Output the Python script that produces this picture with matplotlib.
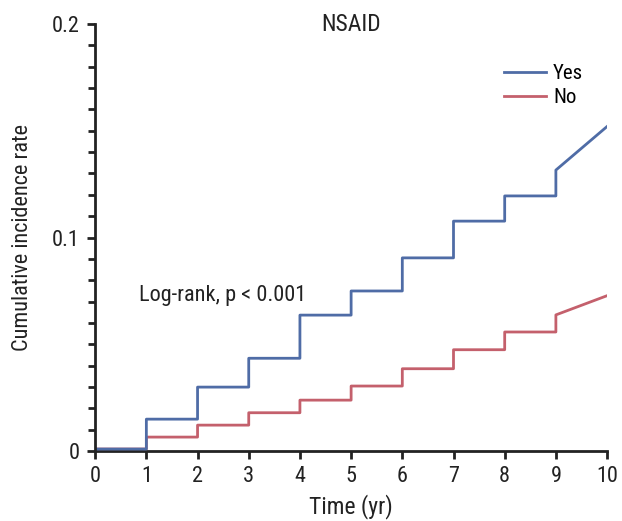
import numpy as np
import matplotlib.pyplot as plt
from matplotlib.ticker import MultipleLocator

plt.rcParams['font.family'] = ['Roboto Condensed', 'Roboto', 'DejaVu Sans']

step_years = [0, 1, 2, 3, 4, 5, 6, 7, 8, 9]
yes_rate = [0.001, 0.015, 0.030, 0.0435, 0.0637, 0.075, 0.0905, 0.1077, 0.1195, 0.1316]
no_rate = [0.001, 0.0066, 0.0122, 0.018, 0.0239, 0.0305, 0.0386, 0.0475, 0.0558, 0.0638]
yes_end = 0.152
no_end = 0.0728
end_year = 10

def curve(years, rates, end_rate):
    xs, ys = [], []
    for i, (t, r) in enumerate(zip(years, rates)):
        if i > 0:
            xs.append(t)
            ys.append(rates[i - 1])
        xs.append(t)
        ys.append(r)
    xs.append(end_year)
    ys.append(end_rate)
    return xs, ys

fig = plt.figure(figsize=(6.22, 5.21), dpi=100)
ax = fig.add_axes([0.153, 0.134, 0.823, 0.82])

blue = '#4f6ca6'
red = '#c4606c'
ink = '#222222'
x, y = curve(step_years, no_rate, no_end)
ax.plot(x, y, color=red, lw=2, label='No', zorder=2)
x, y = curve(step_years, yes_rate, yes_end)
ax.plot(x, y, color=blue, lw=2, label='Yes', zorder=3)

ax.set_xlim(0, 10)
ax.set_ylim(0, 0.2)
ax.set_xticks(range(0, 11))
ax.set_yticks([0, 0.1, 0.2])
ax.set_yticklabels(['0', '0.1', '0.2'])
ax.yaxis.set_minor_locator(MultipleLocator(0.01))
ax.tick_params(axis='both', which='major', length=6, width=2, labelsize=16, colors=ink, pad=5)
ax.tick_params(axis='y', which='minor', length=5, width=2, colors=ink)
for s in ['top', 'right']:
    ax.spines[s].set_visible(False)
for s in ['left', 'bottom']:
    ax.spines[s].set_linewidth(2)
    ax.spines[s].set_color(ink)
ax.spines['left'].set_zorder(4)

ax.set_xlabel('Time (yr)', fontsize=17, color=ink, labelpad=5)
ax.set_ylabel('Cumulative incidence rate', fontsize=16, color=ink, labelpad=14)
ax.set_title('NSAID', fontsize=17, color=ink, y=0.965)
ax.text(0.85, 0.0705, 'Log-rank, p < 0.001', fontsize=16, color=ink)

h, l = ax.get_legend_handles_labels()
ax.legend(h[::-1], l[::-1], loc='upper right', bbox_to_anchor=(0.99, 0.95), frameon=False,
          fontsize=15, handlelength=2.0, labelspacing=0.25, handletextpad=0.35)

fig.savefig('out.png', dpi=100)
